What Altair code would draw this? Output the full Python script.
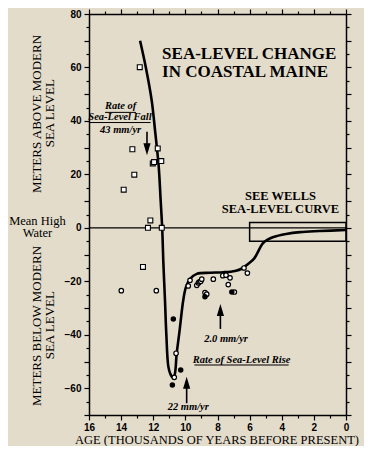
import altair as alt
import pandas as pd

# ---------------- data ----------------
curve_age = [12.82, 12.47, 12.10, 11.87, 11.66, 11.54, 11.44, 11.37, 11.27, 11.19, 11.06,
             10.93, 10.79, 10.68, 10.54, 10.38, 10.13, 9.96, 9.71, 9.29, 8.47, 7.64, 6.91,
             6.47, 6.10, 5.71, 5.18, 4.85, 4.56, 3.73, 2.86, 1.66, 0.0]
curve_elev = [70.0, 60.3, 47.8, 35.4, 22.9, 10.4, -0.5, -13.1, -27.0, -39.3, -51.9,
              -54.7, -55.9, -55.2, -46.9, -39.4, -27.0, -22.1, -19.1, -17.2, -16.8, -16.6, -16.1,
              -15.2, -13.5, -11.4, -5.8, -4.3, -3.5, -2.3, -1.6, -1.2, -0.8]

sq_age = [12.84, 13.30, 13.18, 13.84, 11.72, 12.03, 11.95, 11.50, 12.18, 12.33, 11.47, 12.64]
sq_elev = [60.1, 29.4, 19.9, 14.3, 29.7, 24.1, 24.6, 25.0, 2.8, 0.0, 0.0, -14.6]

oc_age = [13.99, 11.81, 10.58, 10.69, 9.71, 9.82, 9.29, 9.19, 9.13, 9.04, 8.98, 8.26,
          7.67, 7.47, 7.22, 7.33, 6.35, 6.14, 8.78, 8.67, 6.95]
oc_elev = [-23.5, -23.5, -46.9, -55.9, -19.6, -21.7, -21.5, -20.6, -20.2, -20.0, -19.2, -19.2,
           -17.9, -17.7, -18.7, -21.2, -15.0, -16.9, -24.2, -24.8, -24.0]

fc_age = [10.75, 10.29, 10.81, 8.78, 7.11]
fc_elev = [-34.1, -53.2, -58.8, -25.8, -24.0]

# Wells sea-level curve box
box_age = [6.0, 0.0]
box_elev = [2.0, -5.0]

# arrows: x, shaft start, shaft end, head centre, direction
arrow_age = [12.39, 9.92, 7.82]
arrow_shaft_from = [36.0, -65.6, -37.8]
arrow_shaft_to = [30.5, -59.0, -32.0]
arrow_head = [29.45, -57.95, -30.75]
arrow_dir = ["down", "up", "up"]

x_ticks = list(range(0, 17))
y_ticks = list(range(-70, 81, 5))

SERIF = "Liberation Serif"
SANS = "Liberation Sans"

xs = alt.Scale(domain=[16, 0], nice=False, zero=False)
ys = alt.Scale(domain=[-70, 80], nice=False, zero=False)

curve_df = pd.DataFrame({"age": curve_age, "elev": curve_elev, "i": range(len(curve_age))})
sq_df = pd.DataFrame({"age": sq_age, "elev": sq_elev})
oc_df = pd.DataFrame({"age": oc_age, "elev": oc_elev})
fc_df = pd.DataFrame({"age": fc_age, "elev": fc_elev})
box_df = pd.DataFrame({"x": [box_age[0]], "x2": [box_age[1]], "y": [box_elev[0]], "y2": [box_elev[1]]})
arrow_df = pd.DataFrame({"age": arrow_age, "y1": arrow_shaft_from, "y2": arrow_shaft_to,
                         "head": arrow_head, "dir": arrow_dir})

x_tick_size = {"condition": {"test": "datum.value % 2 === 0", "value": 5}, "value": 3}
y_tick_size = {"condition": {"test": "datum.value % 10 === 0", "value": 5}, "value": 3}

bottom_axis = alt.Axis(values=x_ticks, title=None, grid=False, domainColor="black",
                       domainWidth=1.5, tickColor="black", tickWidth=1.2, tickSize=x_tick_size,
                       labelExpr="datum.value % 2 === 0 ? datum.label : ''",
                       labelFont=SANS, labelFontWeight="bold", labelFontSize=10,
                       labelColor="black", labelPadding=2, labelFlush=False)
left_axis = alt.Axis(values=y_ticks, title=None, grid=False, domainColor="black",
                     domainWidth=1.5, tickColor="black", tickWidth=1.2, tickSize=y_tick_size,
                     labelExpr="datum.value % 20 === 0 ? datum.label : ''",
                     labelFont=SANS, labelFontWeight="bold", labelFontSize=10,
                     labelColor="black", labelPadding=3, labelFlush=False)
top_axis = alt.Axis(values=x_ticks, orient="top", title=None, grid=False, labels=False,
                    domainColor="black", domainWidth=1.5, tickColor="black", tickWidth=1.2,
                    tickSize=x_tick_size)
right_axis = alt.Axis(values=y_ticks, orient="right", title=None, grid=False, labels=False,
                      domainColor="black", domainWidth=1.5, tickColor="black", tickWidth=1.2,
                      tickSize=y_tick_size)

zero_line = alt.Chart(pd.DataFrame({"y": [0]})).mark_rule(color="black", strokeWidth=1.2).encode(
    y=alt.Y("y:Q", scale=ys, axis=None))

box = alt.Chart(box_df).mark_rect(fill=None, stroke="black", strokeWidth=1.5).encode(
    x=alt.X("x:Q", scale=xs, axis=top_axis), x2="x2:Q",
    y=alt.Y("y:Q", scale=ys, axis=right_axis), y2="y2:Q")

curve = alt.Chart(curve_df).mark_line(color="black", strokeWidth=2.6, interpolate="catmull-rom").encode(
    x=alt.X("age:Q", scale=xs, axis=bottom_axis),
    y=alt.Y("elev:Q", scale=ys, axis=left_axis),
    order="i:Q")

squares = alt.Chart(sq_df).mark_point(shape="square", filled=True, fill="white", stroke="black",
                                      strokeWidth=1.1, size=24, opacity=1).encode(
    x=alt.X("age:Q", scale=xs, axis=None), y=alt.Y("elev:Q", scale=ys, axis=None))

open_c = alt.Chart(oc_df).mark_point(shape="circle", filled=True, fill="white", stroke="black",
                                     strokeWidth=1.2, size=20, opacity=1).encode(
    x=alt.X("age:Q", scale=xs, axis=None), y=alt.Y("elev:Q", scale=ys, axis=None))

filled_c = alt.Chart(fc_df).mark_point(shape="circle", filled=True, fill="black", size=30,
                                       opacity=1).encode(
    x=alt.X("age:Q", scale=xs, axis=None), y=alt.Y("elev:Q", scale=ys, axis=None))

shafts = alt.Chart(arrow_df).mark_rule(color="black", strokeWidth=1.6).encode(
    x=alt.X("age:Q", scale=xs, axis=None), y=alt.Y("y1:Q", scale=ys, axis=None), y2="y2:Q")

heads_down = alt.Chart(arrow_df).transform_filter("datum.dir === 'down'").mark_point(
    shape="M-0.6,-1L0.6,-1L0,1Z", filled=True, fill="black", size=144, opacity=1).encode(
    x=alt.X("age:Q", scale=xs, axis=None), y=alt.Y("head:Q", scale=ys, axis=None))
heads_up = alt.Chart(arrow_df).transform_filter("datum.dir === 'up'").mark_point(
    shape="M-0.6,1L0.6,1L0,-1Z", filled=True, fill="black", size=144, opacity=1).encode(
    x=alt.X("age:Q", scale=xs, axis=None), y=alt.Y("head:Q", scale=ys, axis=None))


def text_layer(xv, yv, texts, **kw):
    df = pd.DataFrame({"x": xv, "y": yv, "t": texts})
    return alt.Chart(df).mark_text(color="black", **kw).encode(
        x=alt.X("x:Q", scale=xs, axis=None), y=alt.Y("y:Q", scale=ys, axis=None), text="t:N")


title_txt = text_layer([11.45, 11.45], [65.1, 58.4], ["SEA-LEVEL CHANGE", "IN COASTAL MAINE"],
                       font=SERIF, fontSize=17, fontWeight="bold", align="left", baseline="middle")
wells_txt = text_layer([4.08, 4.08], [12.1, 6.9], ["SEE WELLS", "SEA-LEVEL CURVE"],
                       font=SERIF, fontSize=12.5, fontWeight="bold", align="center", baseline="middle")
annot_txt = text_layer([14.03, 14.07, 14.03, 7.47, 9.82, 6.50],
                       [45.5, 41.6, 36.7, -41.7, -66.9, -49.5],
                       ["Rate of", "Sea-Level Fall", "43 mm/yr", "2.0 mm/yr", "22 mm/yr",
                        "Rate of Sea-Level Rise"],
                       font=SERIF, fontSize=10.5, fontWeight="bold", fontStyle="italic",
                       align="center", baseline="middle")
underlines = alt.Chart(pd.DataFrame({"x": [15.0, 15.98, 9.44], "x2": [13.07, 12.16, 3.57],
                                     "y": [43.2, 39.4, -51.3]})).mark_rule(
    color="black", strokeWidth=1).encode(
    x=alt.X("x:Q", scale=xs, axis=None), x2="x2:Q", y=alt.Y("y:Q", scale=ys, axis=None))

side_txt = text_layer([19.21, 19.21], [2.6, -2.1], ["Mean High", "Water"],
                      font=SERIF, fontSize=12.5, align="center", baseline="middle")
ytitle_txt = text_layer([19.24, 18.43, 19.24, 18.43], [42.6, 42.9, -36.7, -36.4],
                        ["METERS ABOVE MODERN", "SEA LEVEL", "METERS BELOW MODERN", "SEA LEVEL"],
                        font=SERIF, fontSize=13, align="center", baseline="middle", angle=270)
xtitle_txt = text_layer([16.87], [-79.2], ["AGE (THOUSANDS OF YEARS BEFORE PRESENT)"],
                        font=SERIF, fontSize=12.5, align="left", baseline="middle")

chart = alt.layer(
    zero_line, box, curve, shafts, heads_down, heads_up, underlines,
    squares, open_c, filled_c,
    title_txt, wells_txt, annot_txt, side_txt, ytitle_txt, xtitle_txt
).resolve_axis(x="independent", y="independent").properties(
    width=257, height=401,
    autosize=alt.AutoSizeParams(type="none"),
    padding={"left": 81, "top": 6, "right": 18, "bottom": 31},
    background="#e4dccb",
).configure_view(stroke=None)

chart.save("out.html", embed_options={"renderer": "svg", "actions": False})
